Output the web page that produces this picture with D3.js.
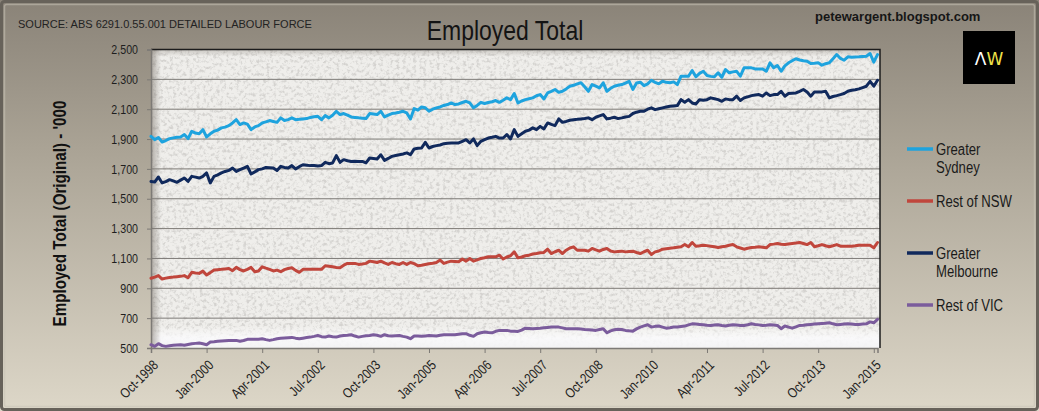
<!DOCTYPE html>
<html><head><meta charset="utf-8">
<script src="https://cdn.jsdelivr.net/npm/d3@7"></script>
<style>html,body{margin:0;padding:0;background:#fff;overflow:hidden}</style>
</head><body>
<svg id="chart" width="1039" height="411"></svg>
<script>
// ---------------- DATA ----------------
const seriesNames = ["Greater Sydney", "Rest of NSW", "Greater Melbourne", "Rest of VIC"];
const legendLines = [["Greater", "Sydney"], ["Rest of NSW"], ["Greater", "Melbourne"], ["Rest of VIC"]];
const firstMonth = "1998-10";
const lastMonth = "2015-02";

const greaterSydney = [
 1918,1896,1910,1880,1890,1903,1908,1912,1914,1930,1903,1952,
 1940,1936,1963,1914,1935,1952,1960,1975,1980,1990,2008,2030,
 1997,2008,2000,1963,1981,1990,2008,2015,2024,2018,2012,2042,
 2024,2030,2042,2030,2032,2035,2037,2045,2050,2052,2030,2057,
 2042,2060,2086,2064,2071,2060,2048,2045,2042,2040,2037,2071,
 2068,2064,2086,2048,2060,2071,2075,2080,2086,2075,2035,2104,
 2093,2115,2110,2086,2100,2109,2115,2125,2131,2142,2131,2135,
 2145,2153,2142,2109,2125,2146,2138,2145,2150,2158,2146,2160,
 2176,2164,2205,2142,2155,2164,2170,2176,2190,2198,2169,2209,
 2220,2232,2213,2220,2236,2254,2260,2270,2277,2250,2220,2265,
 2255,2243,2277,2220,2240,2254,2260,2265,2275,2287,2232,2275,
 2281,2258,2270,2294,2280,2270,2287,2280,2277,2283,2265,2321,
 2321,2321,2359,2317,2340,2354,2326,2320,2317,2344,2314,2366,
 2344,2350,2354,2321,2377,2377,2377,2370,2370,2370,2354,2411,
 2377,2393,2354,2390,2411,2425,2438,2430,2425,2422,2406,2408,
 2411,2395,2405,2411,2438,2466,2440,2428,2451,2448,2450,2451,
 2453,2455,2473,2415,2466
];
const restOfNSW = [
 967,975,985,962,968,973,975,978,980,985,971,1007,
 1003,1000,1015,989,1005,1022,1025,1027,1030,1033,1018,1040,
 1025,1016,1027,1040,1011,1016,1044,1035,1027,1016,1022,1011,
 1025,1033,1038,1020,1007,1027,1027,1027,1027,1027,1027,1051,
 1048,1044,1040,1038,1055,1067,1067,1067,1060,1063,1067,1082,
 1078,1073,1082,1070,1060,1073,1065,1060,1073,1060,1073,1065,
 1051,1055,1060,1065,1068,1073,1089,1067,1075,1082,1080,1078,
 1096,1082,1100,1082,1090,1100,1105,1111,1111,1111,1122,1096,
 1110,1118,1144,1104,1110,1118,1122,1130,1133,1138,1140,1162,
 1133,1145,1155,1133,1155,1170,1178,1155,1155,1155,1149,1167,
 1158,1149,1160,1167,1150,1144,1147,1149,1144,1147,1149,1140,
 1133,1145,1155,1127,1144,1150,1162,1165,1168,1171,1175,1178,
 1193,1178,1207,1182,1185,1189,1186,1182,1178,1173,1178,1182,
 1188,1193,1178,1170,1162,1168,1173,1175,1178,1175,1171,1193,
 1196,1200,1195,1193,1197,1200,1203,1207,1200,1193,1207,1178,
 1185,1193,1185,1178,1185,1193,1182,1182,1182,1182,1185,1189,
 1189,1189,1189,1171,1207
];
const greaterMelbourne = [
 1616,1612,1646,1606,1615,1628,1620,1610,1625,1639,1616,1650,
 1645,1639,1650,1673,1606,1650,1660,1673,1683,1690,1706,1683,
 1695,1706,1717,1666,1680,1695,1700,1710,1708,1706,1690,1717,
 1710,1706,1722,1700,1715,1728,1725,1722,1722,1720,1722,1744,
 1735,1740,1789,1744,1762,1755,1750,1752,1750,1750,1740,1773,
 1770,1767,1795,1757,1770,1784,1790,1795,1800,1807,1795,1834,
 1838,1840,1878,1840,1850,1856,1860,1869,1872,1874,1874,1874,
 1885,1896,1874,1901,1856,1885,1896,1907,1912,1918,1907,1907,
 1930,1901,1963,1918,1935,1952,1960,1975,1963,1985,1968,2008,
 1998,1990,2035,2012,2018,2026,2030,2032,2035,2038,2042,2030,
 2046,2055,2064,2035,2040,2046,2037,2042,2048,2052,2071,2080,
 2086,2086,2100,2109,2097,2103,2109,2115,2120,2122,2124,2164,
 2146,2164,2142,2135,2164,2160,2164,2176,2170,2164,2153,2169,
 2164,2164,2187,2158,2176,2183,2191,2195,2198,2187,2209,2191,
 2198,2198,2220,2187,2205,2207,2209,2220,2232,2215,2187,2216,
 2216,2216,2220,2176,2185,2191,2198,2205,2220,2227,2230,2236,
 2245,2254,2287,2254,2294
];
const restOfVIC = [
 522,511,529,516,511,515,518,520,522,518,524,529,
 531,533,528,522,540,542,545,547,549,551,551,551,
 545,550,558,558,558,558,562,556,551,556,562,565,
 567,569,571,566,562,566,570,573,578,584,576,573,
 580,576,573,580,584,586,589,580,573,578,582,584,
 589,585,578,589,582,580,582,584,578,573,562,580,
 580,578,581,584,582,580,585,589,589,589,589,592,
 595,596,585,578,596,602,607,604,602,612,618,618,
 618,613,612,611,620,633,631,629,631,633,636,638,
 640,640,640,635,629,629,629,629,627,624,622,620,
 618,624,629,602,615,622,626,624,618,615,613,628,
 640,648,656,640,645,647,640,633,636,640,640,644,
 647,655,662,660,658,656,653,651,654,656,651,647,
 652,656,654,651,651,656,662,658,655,651,653,656,
 654,651,629,647,640,633,642,651,653,656,658,660,
 662,664,666,669,662,656,658,660,662,660,658,658,
 660,662,675,669,692
];
const yTickValues = [500, 700, 900, 1100, 1300, 1500, 1700, 1900, 2100, 2300, 2500];
const xTickLabels = ["Oct-1998","Jan-2000","Apr-2001","Jul-2002","Oct-2003","Jan-2005","Apr-2006",
                     "Jul-2007","Oct-2008","Jan-2010","Apr-2011","Jul-2012","Oct-2013","Jan-2015"];
const seriesColors = ["#1ea3de", "#c0463c", "#10295c", "#7b5c9c"];
const titleText = "Employed Total";
const sourceText = "SOURCE: ABS 6291.0.55.001 DETAILED LABOUR FORCE";
const siteText = "petewargent.blogspot.com";
const yAxisTitle = "Employed Total (Original) - '000";

// ---------------- FONT CHECK ----------------
function hasFont(name){
  const c = document.createElement('canvas').getContext('2d');
  const s = 'abcdefghijklmnopqrstuvwxyzABCDEFGHIJ0123456789';
  c.font = '40px monospace'; const a = c.measureText(s).width;
  c.font = '40px "' + name + '", monospace'; const b = c.measureText(s).width;
  return Math.abs(a - b) > 0.5;
}
let NARROW = null;
if (hasFont('Liberation Sans Narrow')) NARROW = '"Liberation Sans Narrow"';
else if (hasFont('Arial Narrow')) NARROW = '"Arial Narrow"';
const narrowFamily = NARROW ? NARROW : '"Liberation Sans", Arial, sans-serif';

// ---------------- LAYOUT ----------------
const W = 1039, H = 411;
const plot = {left: 151, top: 49.5, right: 880, bottom: 348};
const svg = d3.select('#chart');
const defs = svg.append('defs');

const bg = defs.append('linearGradient').attr('id','bg').attr('x1',0).attr('y1',0).attr('x2',0).attr('y2',1);
bg.append('stop').attr('offset','0%').attr('stop-color','#8a8378');
bg.append('stop').attr('offset','35%').attr('stop-color','#a9a294');
bg.append('stop').attr('offset','100%').attr('stop-color','#ddd7c8');

const leftShade = defs.append('linearGradient').attr('id','leftShade').attr('x1',0).attr('y1',0).attr('x2',1).attr('y2',0);
leftShade.append('stop').attr('offset','0%').attr('stop-color','#6e665c').attr('stop-opacity',0.5);
leftShade.append('stop').attr('offset','100%').attr('stop-color','#6e665c').attr('stop-opacity',0);
const topShade = defs.append('linearGradient').attr('id','topShade').attr('x1',0).attr('y1',0).attr('x2',0).attr('y2',1);
topShade.append('stop').attr('offset','0%').attr('stop-color','#6e665c').attr('stop-opacity',0.3);
topShade.append('stop').attr('offset','100%').attr('stop-color','#6e665c').attr('stop-opacity',0);
const botLight = defs.append('linearGradient').attr('id','botLight').attr('x1',0).attr('y1',0).attr('x2',0).attr('y2',1);
botLight.append('stop').attr('offset','0%').attr('stop-color','#ffffff').attr('stop-opacity',0);
botLight.append('stop').attr('offset','55%').attr('stop-color','#fbfbfd').attr('stop-opacity',0.85);
botLight.append('stop').attr('offset','100%').attr('stop-color','#f4f4f6').attr('stop-opacity',0.92);

const f = defs.append('filter').attr('id','speckle').attr('x',0).attr('y',0).attr('width','100%').attr('height','100%');
f.append('feTurbulence').attr('type','fractalNoise').attr('baseFrequency','0.3').attr('numOctaves',4).attr('seed',11).attr('result','t');
f.append('feColorMatrix').attr('in','t').attr('type','matrix')
 .attr('values','0 0 0 0 0.55  0 0 0 0 0.54  0 0 0 0 0.52  3.4 0 0 0 -1.6');

// background + frame
svg.append('rect').attr('width',W).attr('height',H).attr('fill','url(#bg)');
svg.append('rect').attr('x',1.5).attr('y',1.5).attr('width',W-3).attr('height',H-3).attr('rx',3)
  .attr('fill','none').attr('stroke','#67625a').attr('stroke-width',3);
svg.append('rect').attr('x',4.5).attr('y',4.5).attr('width',W-9).attr('height',H-9).attr('rx',2)
  .attr('fill','none').attr('stroke','#c9c3b6').attr('stroke-opacity',0.55).attr('stroke-width',1.5);

// plot area texture
const pw = plot.right - plot.left, ph = plot.bottom - plot.top;
svg.append('rect').attr('x',plot.left).attr('y',plot.top).attr('width',pw).attr('height',ph).attr('fill','#efeeeb');
svg.append('rect').attr('x',plot.left).attr('y',plot.top).attr('width',pw).attr('height',ph).attr('fill','#000').attr('filter','url(#speckle)').attr('opacity',0.6);
svg.append('rect').attr('x',plot.left).attr('y',plot.bottom-22).attr('width',pw).attr('height',22).attr('fill','url(#botLight)');
svg.append('rect').attr('x',plot.left).attr('y',plot.top).attr('width',10).attr('height',ph).attr('fill','url(#leftShade)');
svg.append('rect').attr('x',plot.left).attr('y',plot.top).attr('width',pw).attr('height',7).attr('fill','url(#topShade)');

// ---------------- SCALES ----------------
const parseM = d3.timeParse('%Y-%m');
const fmtM = d3.timeFormat('%b-%Y');
const months = d3.timeMonth.range(parseM(firstMonth), d3.timeMonth.offset(parseM(lastMonth), 1));
const categories = months.map(fmtM);
const x = d3.scalePoint().domain(categories).range([plot.left, plot.right - 2.5]);
const y = d3.scaleLinear().domain([500, 2500]).range([plot.bottom, plot.top]);

// gridlines
svg.append('g').selectAll('line').data(yTickValues.filter(v => v > 500 && v < 2500)).join('line')
  .attr('x1', plot.left).attr('x2', plot.right).attr('y1', d => y(d)).attr('y2', d => y(d))
  .attr('stroke', '#7d7a76').attr('stroke-width', 1);

// plot border top/right
svg.append('path').attr('d', `M${plot.left},${plot.top}H${plot.right}V${plot.bottom}`)
  .attr('fill','none').attr('stroke','#1c1c1c').attr('stroke-width',1.5);

// y axis
const yAxis = d3.axisLeft(y).tickValues(yTickValues).tickSize(4).tickPadding(9).tickFormat(d3.format(','));
const gy = svg.append('g').attr('transform', `translate(${plot.left},0)`).call(yAxis);
gy.select('.domain').attr('stroke','#7d7a76').attr('stroke-width',1.5);
gy.selectAll('.tick line').attr('stroke','#7d7a76');
gy.selectAll('.tick text').attr('font-family', narrowFamily).attr('font-size', 13).attr('fill','#1e1e1e').classed('narrow', true);

// x axis
const xAxis = d3.axisBottom(x).tickValues(xTickLabels).tickSize(5).tickFormat(d => d);
const gx = svg.append('g').attr('transform', `translate(0,${plot.bottom})`).call(xAxis);
gx.select('.domain').attr('stroke','#7d7a76').attr('stroke-width',1.5);
gx.selectAll('.tick line').attr('stroke','#7d7a76');
gx.selectAll('.tick text')
  .attr('font-family', narrowFamily).attr('font-size', 14).attr('fill','#1e1e1e')
  .attr('text-anchor','end').attr('y',0).attr('dy','0.35em')
  .attr('transform','translate(4,14.5) rotate(-45)').classed('narrow', true);

// ---------------- LINES ----------------
const allSeries = [greaterSydney, restOfNSW, greaterMelbourne, restOfVIC];
const line = d3.line().x((d, i) => x(categories[i])).y(d => y(d));
const drawOrder = [3, 1, 2, 0];
svg.append('g').selectAll('path').data(drawOrder).join('path')
  .attr('d', k => line(allSeries[k]))
  .attr('fill','none').attr('stroke', k => seriesColors[k])
  .attr('stroke-width', 3).attr('stroke-linejoin','round').attr('stroke-linecap','round');

// ---------------- TEXTS ----------------
svg.append('text').attr('x', 505).attr('y', 40).attr('text-anchor','middle')
  .attr('font-family', narrowFamily).attr('font-size', 28).attr('fill','#141414')
  .classed('narrow', true).text(titleText);
svg.append('text').attr('x', 18).attr('y', 28)
  .attr('font-family','"Liberation Sans", Arial, sans-serif').attr('font-size', 11).attr('fill','#222')
  .text(sourceText);
svg.append('text').attr('x', 815).attr('y', 21)
  .attr('font-family','"Liberation Sans", Arial, sans-serif').attr('font-weight','bold').attr('font-size', 13).attr('fill','#161616')
  .text(siteText);
svg.append('text').attr('transform','translate(66,213.5) rotate(-90)').attr('text-anchor','middle')
  .attr('font-family', narrowFamily).attr('font-weight','bold').attr('font-size', 18.5).attr('fill','#111')
  .classed('narrow', true).text(yAxisTitle);

// logo
svg.append('rect').attr('x',963).attr('y',31).attr('width',52).attr('height',53).attr('fill','#000');
const logo = svg.append('text').attr('x', 989).attr('y', 65).attr('text-anchor','middle')
  .attr('font-family','"DejaVu Sans", sans-serif').attr('font-size', 17).attr('font-weight', 'normal');
logo.append('tspan').attr('fill','#ffffff').text('Λ');
logo.append('tspan').attr('fill','#efe24a').text('W');

// legend
const legendY = [149, 201, 253, 305];
const lg = svg.append('g');
seriesNames.forEach((name, k) => {
  lg.append('line').attr('x1', 907).attr('x2', 933).attr('y1', legendY[k]).attr('y2', legendY[k])
    .attr('stroke', seriesColors[k]).attr('stroke-width', 3.5);
  const t = lg.append('text').attr('x', 936).attr('y', legendY[k] + 5.5)
    .attr('font-family', narrowFamily).attr('font-size', 16).attr('fill','#1a1a1a').classed('narrow', true);
  legendLines[k].forEach((ln, j) => {
    t.append('tspan').attr('x', 936).attr('dy', j === 0 ? 0 : 18).text(ln);
  });
});

// if no narrow font installed, compress text horizontally
if (!NARROW) {
  svg.selectAll('text.narrow').each(function(){
    const el = this;
    const tspans = el.querySelectorAll('tspan');
    if (tspans.length > 1) {
      tspans.forEach(ts => { const L = ts.getComputedTextLength(); ts.setAttribute('textLength', L*0.82); ts.setAttribute('lengthAdjust','spacingAndGlyphs'); });
    } else {
      const L = el.getComputedTextLength();
      el.setAttribute('textLength', L*0.82); el.setAttribute('lengthAdjust','spacingAndGlyphs');
    }
  });
}
</script>
</body></html>
